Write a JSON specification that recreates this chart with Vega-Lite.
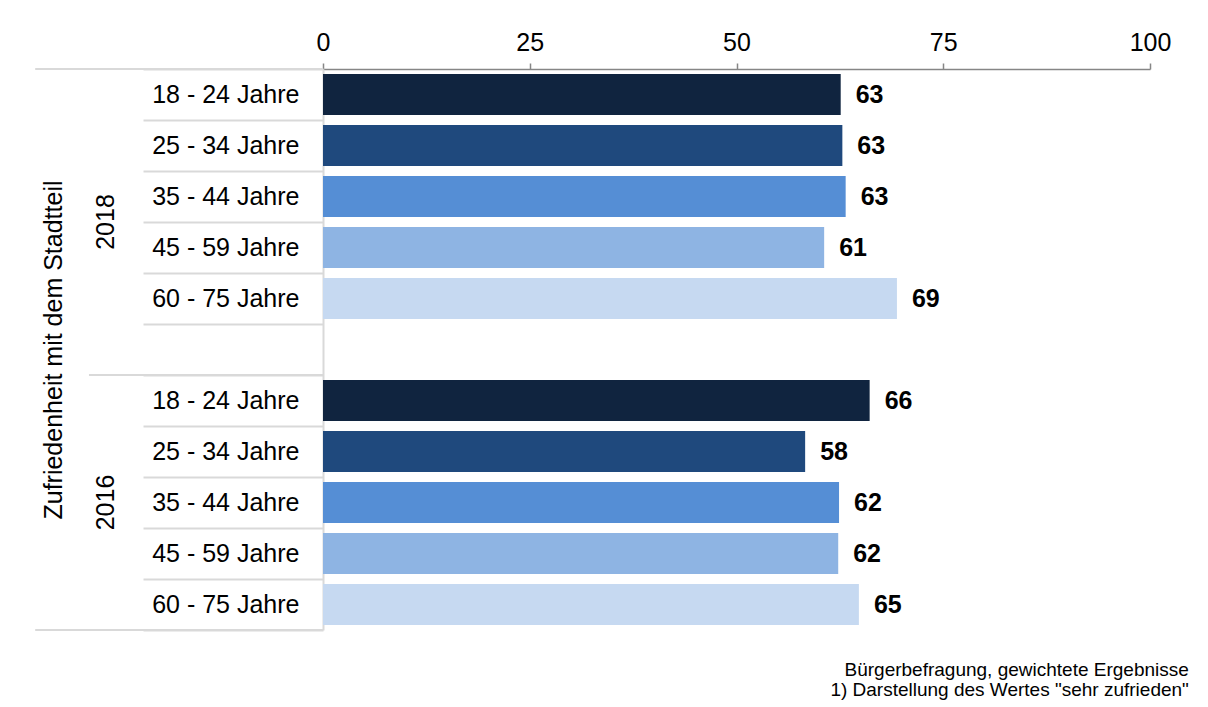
{
  "$schema": "https://vega.github.io/schema/vega-lite/v6.json",
  "width": 827,
  "height": 561,
  "autosize": {"type": "none"},
  "padding": {"left": 323, "top": 69, "right": 58, "bottom": 77},
  "background": "white",
  "config": {"font": "Liberation Sans", "view": {"stroke": null}},
  "title": {
    "text": ["Bürgerbefragung, gewichtete Ergebnisse", "1) Darstellung des Wertes \"sehr zufrieden\""],
    "orient": "bottom",
    "anchor": "end",
    "align": "right",
    "dx": 18,
    "offset": 30,
    "fontSize": 19,
    "fontWeight": "normal",
    "color": "#000000",
    "lineHeight": 20
  },
  "datasets": {
    "balken": [
      {"zeile": "2018: 18 - 24 Jahre", "alter": "18 - 24 Jahre", "wert": 62.6},
      {"zeile": "2018: 25 - 34 Jahre", "alter": "25 - 34 Jahre", "wert": 62.8},
      {"zeile": "2018: 35 - 44 Jahre", "alter": "35 - 44 Jahre", "wert": 63.2},
      {"zeile": "2018: 45 - 59 Jahre", "alter": "45 - 59 Jahre", "wert": 60.6},
      {"zeile": "2018: 60 - 75 Jahre", "alter": "60 - 75 Jahre", "wert": 69.4},
      {"zeile": "2016: 18 - 24 Jahre", "alter": "18 - 24 Jahre", "wert": 66.1},
      {"zeile": "2016: 25 - 34 Jahre", "alter": "25 - 34 Jahre", "wert": 58.3},
      {"zeile": "2016: 35 - 44 Jahre", "alter": "35 - 44 Jahre", "wert": 62.4},
      {"zeile": "2016: 45 - 59 Jahre", "alter": "45 - 59 Jahre", "wert": 62.3},
      {"zeile": "2016: 60 - 75 Jahre", "alter": "60 - 75 Jahre", "wert": 64.8}
    ],
    "trenner": [
      {"zeile": "2018: 18 - 24 Jahre", "von": -34.8},
      {"zeile": "2016: 18 - 24 Jahre", "von": -28.3}
    ],
    "trennerUnten": [
      {"zeile": "2016: 60 - 75 Jahre", "von": -34.8}
    ],
    "jahr2018": [{"zeile": "2018: 45 - 59 Jahre", "wert": -26.2, "jahr": "2018"}],
    "jahr2016": [{"zeile": "2016: 35 - 44 Jahre", "wert": -26.2, "jahr": "2016"}]
  },
  "layer": [
    {
      "data": {"name": "balken"},
      "mark": {"type": "bar", "height": {"band": 0.8}},
      "encoding": {
        "x": {
          "field": "wert", "type": "quantitative",
          "scale": {"domain": [0, 100], "nice": false},
          "axis": {
            "orient": "top", "values": [0, 25, 50, 75, 100], "grid": false,
            "domainColor": "#868686", "domainWidth": 1.5,
            "tickColor": "#868686", "tickSize": 6, "tickWidth": 1.5,
            "labelFontSize": 25, "labelColor": "#000000", "labelPadding": 8,
            "labelFlush": false, "title": null
          }
        },
        "y": {
          "field": "zeile", "type": "ordinal",
          "scale": {
            "domain": ["2018: 18 - 24 Jahre", "2018: 25 - 34 Jahre", "2018: 35 - 44 Jahre", "2018: 45 - 59 Jahre", "2018: 60 - 75 Jahre", "2018: ", "2016: 18 - 24 Jahre", "2016: 25 - 34 Jahre", "2016: 35 - 44 Jahre", "2016: 45 - 59 Jahre", "2016: 60 - 75 Jahre"],
            "paddingInner": 0, "paddingOuter": 0
          },
          "axis": {
            "title": "Zufriedenheit mit dem Stadtteil",
            "titleFontSize": 25, "titleFontWeight": "normal", "titleColor": "#000000", "titlePadding": 76,
            "labelExpr": "split(datum.value, ': ')[1]",
            "labelFontSize": 25, "labelColor": "#000000", "labelPadding": -156, "labelBaseline": "middle",
            "tickSize": 180, "tickBand": "extent", "tickColor": "#d9d9d9", "tickWidth": 2,
            "domainColor": "#d9d9d9", "domainWidth": 2, "grid": false
          }
        },
        "color": {
          "field": "alter", "type": "nominal",
          "scale": {
            "domain": ["18 - 24 Jahre", "25 - 34 Jahre", "35 - 44 Jahre", "45 - 59 Jahre", "60 - 75 Jahre"],
            "range": ["#10243f", "#1f497d", "#558ed5", "#8eb4e3", "#c6d9f1"]
          },
          "legend": null
        }
      }
    },
    {
      "data": {"name": "balken"},
      "mark": {"type": "text", "align": "left", "baseline": "middle", "dx": 15, "fontSize": 25, "fontWeight": "bold", "color": "#000000"},
      "encoding": {
        "x": {"field": "wert", "type": "quantitative"},
        "y": {"field": "zeile", "type": "ordinal"},
        "text": {"field": "wert", "type": "quantitative", "format": ".0f"}
      }
    },
    {
      "data": {"name": "trenner"},
      "mark": {"type": "rule", "color": "#d9d9d9", "strokeWidth": 2},
      "encoding": {
        "x": {"field": "von", "type": "quantitative"},
        "x2": {"datum": 0},
        "y": {"field": "zeile", "type": "ordinal", "bandPosition": 0}
      }
    },
    {
      "data": {"name": "trennerUnten"},
      "mark": {"type": "rule", "color": "#d9d9d9", "strokeWidth": 2},
      "encoding": {
        "x": {"field": "von", "type": "quantitative"},
        "x2": {"datum": 0},
        "y": {"field": "zeile", "type": "ordinal", "bandPosition": 1}
      }
    },
    {
      "data": {"name": "jahr2018"},
      "mark": {"type": "text", "angle": 270, "align": "center", "baseline": "middle", "fontSize": 25, "color": "#000000"},
      "encoding": {
        "x": {"field": "wert", "type": "quantitative"},
        "y": {"field": "zeile", "type": "ordinal", "bandPosition": 0},
        "text": {"field": "jahr", "type": "nominal"}
      }
    },
    {
      "data": {"name": "jahr2016"},
      "mark": {"type": "text", "angle": 270, "align": "center", "baseline": "middle", "fontSize": 25, "color": "#000000"},
      "encoding": {
        "x": {"field": "wert", "type": "quantitative"},
        "y": {"field": "zeile", "type": "ordinal", "bandPosition": 0.5},
        "text": {"field": "jahr", "type": "nominal"}
      }
    }
  ]
}
